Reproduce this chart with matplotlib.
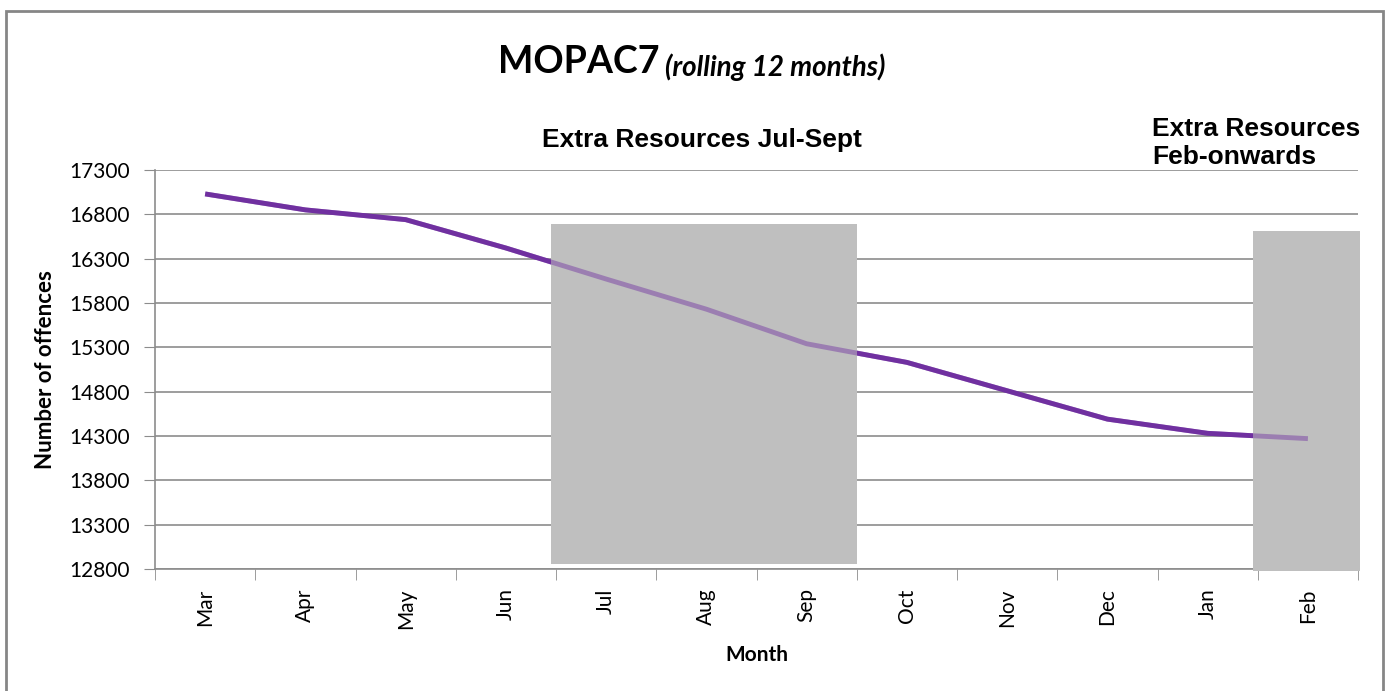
import matplotlib
matplotlib.use("Agg")
import matplotlib.pyplot as plt
from matplotlib.patches import Rectangle

# data
months = ["Mar", "Apr", "May", "Jun", "Jul", "Aug", "Sep", "Oct", "Nov", "Dec", "Jan", "Feb"]
offences = [17030, 16850, 16740, 16420, 16070, 15730, 15340, 15130, 14810, 14490, 14330, 14270]
yticks = [12800, 13300, 13800, 14300, 14800, 15300, 15800, 16300, 16800, 17300]

line_col = "#7030A0"
grid_col = "#8C8C8C"
box_col = "#BFBFBF"

fig = plt.figure(figsize=(13.88, 6.91), dpi=100)
ax = fig.add_axes([0.1117, 0.1766, 0.8667, 0.5774])

x = list(range(len(months)))
ax.plot(x, offences, color=line_col, lw=3.5, solid_capstyle="butt", zorder=3)

# shaded "extra resources" periods
ax.add_patch(Rectangle((3.45, 12856), 3.05, 16693 - 12856, color=box_col, lw=0, zorder=4))
ax.add_patch(Rectangle((10.45, 12780), 1.07, 16614 - 12780, color=box_col, lw=0,
                       zorder=4, clip_on=False))
# faded line showing through the boxes
ax.plot(x, offences, color=line_col, lw=3.5, alpha=0.45, solid_capstyle="butt", zorder=5)

ax.set_xlim(-0.5, 11.5)
ax.set_ylim(12800, 17300)
ax.set_yticks(yticks)
ax.set_yticklabels([str(v) for v in yticks], fontsize=15, family="Lato")
ax.set_xticks(x)
ax.set_xticklabels(months, rotation=90, fontsize=15, family="Lato")
ax.set_xticks([i - 0.5 for i in range(len(months) + 1)], minor=True)
ax.tick_params(axis="x", which="major", length=0, pad=14)
ax.tick_params(axis="x", which="minor", length=8, color=grid_col)
ax.tick_params(axis="y", length=8, color=grid_col, pad=10)
ax.grid(axis="y", color=grid_col, lw=1.2, zorder=1)
for s in ["top", "right"]:
    ax.spines[s].set_visible(False)
for s in ["left", "bottom"]:
    ax.spines[s].set_color(grid_col)
    ax.spines[s].set_linewidth(1.2)

ax.set_xlabel("Month", fontsize=15, fontweight="bold", family="Lato", labelpad=12)
ax.set_ylabel("Number of offences", fontsize=16, fontweight="bold", family="Lato", labelpad=10)

# title
fig.text(0.359, 0.91, "MOPAC7", fontsize=27, fontweight="bold", family="Lato",
         ha="left", va="center")
fig.text(0.479, 0.903, "(rolling 12 months)", fontsize=20, fontweight="bold",
         style="italic", family="Lato", ha="left", va="center")

fig.text(0.506, 0.797, "Extra Resources Jul-Sept", fontsize=19, fontweight="bold",
         family="Liberation Sans", ha="center", va="center")
fig.text(0.830, 0.793, "Extra Resources\nFeb-onwards", fontsize=19, fontweight="bold",
         family="Liberation Sans", ha="left", va="center", linespacing=1.2)

# outer chart border
fig.patches.append(Rectangle((0.0045, -0.01), 0.9922, 0.994, transform=fig.transFigure,
                             fill=False, edgecolor="#868686", lw=2))

fig.savefig("out.png", dpi=100)
